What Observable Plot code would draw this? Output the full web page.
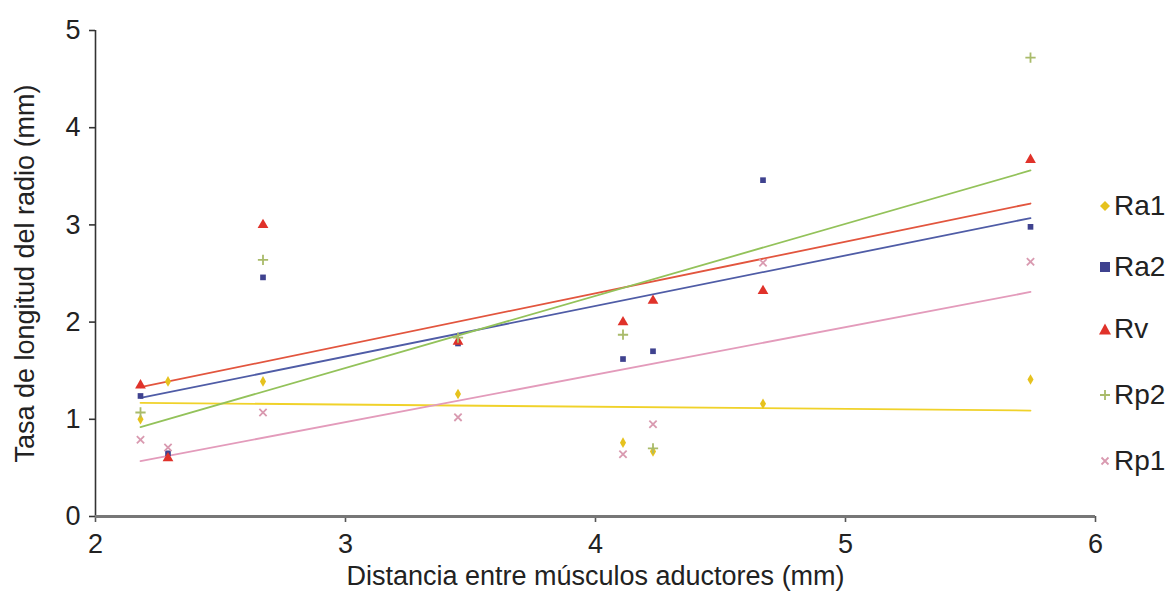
<!DOCTYPE html>
<html>
<head>
<meta charset="utf-8">
<script src="https://cdn.jsdelivr.net/npm/d3@7"></script>
<script src="https://cdn.jsdelivr.net/npm/@observablehq/plot@0.6"></script>
<style>
  html, body { margin: 0; padding: 0; background: #fff; }
  #wrap { position: relative; width: 1171px; height: 611px; overflow: hidden; font-family: "Liberation Sans", Arial, sans-serif; }
  #legend { position: absolute; left: 1098px; top: 0; }
  .item { position: absolute; left: 0; display: flex; align-items: center; white-space: nowrap; font-size: 28px; color: #222; }
  .item svg { margin-right: 2px; }
</style>
</head>
<body>
<div id="wrap"><div id="legend"></div></div>
<script>
// Distance between adductor muscles (mm)
const xs = [2.18, 2.29, 2.67, 3.45, 4.11, 4.23, 4.67, 5.74];
// Radius length rate (mm) per series
const ra1 = [1.00, 1.39, 1.39, 1.26, 0.76, 0.67, 1.16, 1.41];
const ra2 = [1.24, 0.65, 2.46, 1.78, 1.62, 1.70, 3.46, 2.98];
const rv  = [1.35, 0.60, 3.00, 1.80, 2.00, 2.22, 2.32, 3.67];
const rp2 = [1.07, null, 2.64, 1.84, 1.87, 0.70, null, 4.72];
const rp1 = [0.79, 0.71, 1.07, 1.02, 0.64, 0.95, 2.61, 2.62];

const seriesNames = ["Ra1", "Ra2", "Rv", "Rp2", "Rp1"];
const seriesValues = [ra1, ra2, rv, rp2, rp1];
// trend line values at first and last x
const trendStart = [1.17, 1.22, 1.33, 0.92, 0.57];
const trendEnd   = [1.09, 3.07, 3.22, 3.56, 2.31];

const yTicks = [0, 1, 2, 3, 4, 5];
const xTicks = [2, 3, 4, 5, 6];
const xTitle = "Distancia entre músculos aductores (mm)";
const yTitle = "Tasa de longitud del radio (mm)";

const pointColor = {Ra1: "#e6c21e", Ra2: "#3f428f", Rv: "#e0322a", Rp2: "#a9bb6a", Rp1: "#d99ab0"};
const lineColor  = {Ra1: "#f0d22a", Ra2: "#4f5ca6", Rv: "#e2553e", Rp2: "#93c25a", Rp1: "#e39bbb"};
const symbolOf   = {Ra1: "diamond", Ra2: "square", Rv: "triangle", Rp2: "plus", Rp1: "times"};

const points = [];
seriesNames.forEach((s, i) => seriesValues[i].forEach((v, j) => { if (v != null) points.push({serie: s, x: xs[j], y: v}); }));
const trends = [];
seriesNames.forEach((s, i) => {
  trends.push({serie: s, x: xs[0], y: trendStart[i]});
  trends.push({serie: s, x: xs[xs.length - 1], y: trendEnd[i]});
});

const filled = ["Ra1", "Ra2", "Rv"];
const stroked = ["Rp2", "Rp1"];

const marks = [
  Plot.ruleX([2], {stroke: "#333", strokeWidth: 1.6}),
  Plot.axisY({ticks: yTicks, tickFormat: d3.format("d"), tickSize: 6, tickPadding: 9, fontSize: 27, label: null, stroke: "#333", strokeWidth: 1.6, color: "#222"}),
  Plot.axisX({ticks: xTicks, tickFormat: d3.format("d"), tickSize: 6, tickPadding: 11, fontSize: 27, label: null, stroke: "#555", strokeWidth: 1.6, color: "#222"}),
  Plot.ruleY([0], {stroke: "#777", strokeWidth: 3}),
  ...seriesNames.map(s => Plot.line(trends.filter(d => d.serie === s), {x: "x", y: "y", stroke: lineColor[s], strokeWidth: 1.8})),
  ...filled.map(s => Plot.dot(points.filter(d => d.serie === s), {x: "x", y: "y", symbol: symbolOf[s], fill: pointColor[s], r: s === "Rv" ? 4 : 3.2})),
  ...stroked.map(s => Plot.dot(points.filter(d => d.serie === s), {x: "x", y: "y", symbol: symbolOf[s], stroke: pointColor[s], strokeWidth: 1.8, r: 3.4})),
  Plot.text([xTitle], {frameAnchor: "bottom", dy: 68, fontSize: 27, fill: "#222", text: d => d, style: "letter-spacing:1px"}),
  Plot.text([yTitle], {frameAnchor: "left", textAnchor: "middle", dx: -70, rotate: -90, fontSize: 27, fill: "#222", text: d => d, style: "letter-spacing:1px"})
];

const chart = Plot.plot({
  width: 1171,
  height: 611,
  marginLeft: 95,
  marginRight: 76,
  marginTop: 30,
  marginBottom: 95,
  x: {domain: [2, 6]},
  y: {domain: [0, 5]},
  style: {fontFamily: "'Liberation Sans', Arial, sans-serif", background: "#fff", overflow: "visible"},
  marks
});
document.getElementById("wrap").prepend(chart);

// legend
const legendY = [207, 268, 330, 396, 462];
const legend = document.getElementById("legend");
const symbolSvg = {
  Ra1: c => `<path d="M7,2 L12,7 L7,12 L2,7 Z" fill="${c}"/>`,
  Ra2: c => `<rect x="2" y="2" width="10" height="10" fill="${c}"/>`,
  Rv:  c => `<path d="M7,1.5 L13,12.5 L1,12.5 Z" fill="${c}"/>`,
  Rp2: c => `<path d="M7,2 V12 M2,7 H12" stroke="${c}" stroke-width="1.8"/>`,
  Rp1: c => `<path d="M3.5,3.5 L10.5,10.5 M10.5,3.5 L3.5,10.5" stroke="${c}" stroke-width="1.8"/>`
};
seriesNames.forEach((s, i) => {
  const el = document.createElement("div");
  el.className = "item";
  el.style.top = (legendY[i] - 17) + "px";
  el.innerHTML = `<svg width="14" height="14" viewBox="0 0 14 14">${symbolSvg[s](pointColor[s])}</svg><span>${s}</span>`;
  legend.appendChild(el);
});
</script>
</body>
</html>
